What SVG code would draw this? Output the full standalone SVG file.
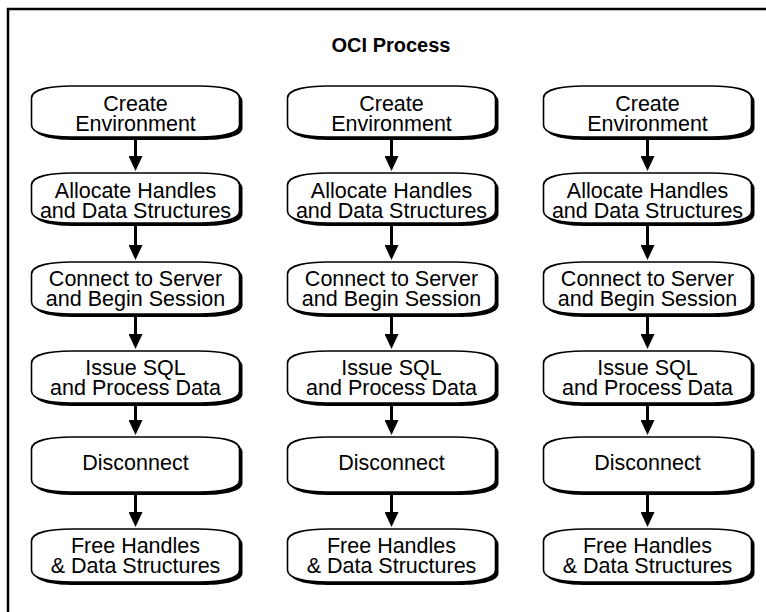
<svg xmlns="http://www.w3.org/2000/svg" xmlns:xlink="http://www.w3.org/1999/xlink" width="766" height="612" viewBox="0 0 766 612">
<style>
  .frame{fill:none;stroke:#000;stroke-width:2.5}
  .shadow{fill:#000}
  .box{fill:#fff;stroke:#000;stroke-width:1.6}
  .lbl{font-family:"Liberation Sans",Arial,sans-serif;font-size:21.5px;fill:#000;text-anchor:middle}
  .title{font-family:"Liberation Sans",Arial,sans-serif;font-size:20px;font-weight:bold;fill:#000;text-anchor:middle}
  .conn{stroke:#000;stroke-width:3;fill:none;marker-end:url(#ah)}
</style>
<defs>
  <marker id="ah" viewBox="0 0 15 14" refX="9" refY="7" markerWidth="15" markerHeight="14" markerUnits="userSpaceOnUse" orient="auto">
    <path d="M0,0 L15,7 L0,14 Z" fill="#000"/>
  </marker>
  <path id="r1" d="M0,98 C0,89 20,86 40,86 L168,86 C188,86 208,89 208,98 L208,125 C208,134 188,137 168,137 L40,137 C20,137 0,134 0,125 Z"/>
  <path id="r2" d="M0,185 C0,176 20,173 40,173 L168,173 C188,173 208,176 208,185 L208,211 C208,220 188,223 168,223 L40,223 C20,223 0,220 0,211 Z"/>
  <path id="r3" d="M0,274 C0,265 20,262 40,262 L168,262 C188,262 208,265 208,274 L208,302 C208,311 188,314 168,314 L40,314 C20,314 0,311 0,302 Z"/>
  <path id="r4" d="M0,363 C0,354 20,351 40,351 L168,351 C188,351 208,354 208,363 L208,391 C208,400 188,403 168,403 L40,403 C20,403 0,400 0,391 Z"/>
  <path id="r5" d="M0,449 C0,440 20,437 40,437 L168,437 C188,437 208,440 208,449 L208,480 C208,489 188,492 168,492 L40,492 C20,492 0,489 0,480 Z"/>
  <path id="r6" d="M0,541 C0,532 20,529 40,529 L168,529 C188,529 208,532 208,541 L208,570 C208,579 188,582 168,582 L40,582 C20,582 0,579 0,570 Z"/>
</defs>

<rect class="frame" x="8" y="9" width="800" height="700"/>
<text class="title" x="391" y="52">OCI Process</text>

<!-- Column 1 -->
<g id="c1-create"><use href="#r1" class="shadow" x="34.5" y="3"/><use href="#r1" class="box" x="31.5"/><text class="lbl" x="135.5" y="111">Create</text><text class="lbl" x="135.5" y="131">Environment</text></g>
<g id="c1-allocate"><use href="#r2" class="shadow" x="34.5" y="3"/><use href="#r2" class="box" x="31.5"/><text class="lbl" x="135.5" y="198">Allocate Handles</text><text class="lbl" x="135.5" y="218">and Data Structures</text></g>
<g id="c1-connect"><use href="#r3" class="shadow" x="34.5" y="3"/><use href="#r3" class="box" x="31.5"/><text class="lbl" x="135.5" y="286">Connect to Server</text><text class="lbl" x="135.5" y="306">and Begin Session</text></g>
<g id="c1-issue"><use href="#r4" class="shadow" x="34.5" y="3"/><use href="#r4" class="box" x="31.5"/><text class="lbl" x="135.5" y="375">Issue SQL</text><text class="lbl" x="135.5" y="395">and Process Data</text></g>
<g id="c1-disconnect"><use href="#r5" class="shadow" x="34.5" y="3"/><use href="#r5" class="box" x="31.5"/><text class="lbl" x="135.5" y="470">Disconnect</text></g>
<g id="c1-free"><use href="#r6" class="shadow" x="34.5" y="3"/><use href="#r6" class="box" x="31.5"/><text class="lbl" x="135.5" y="553">Free Handles</text><text class="lbl" x="135.5" y="573">&amp; Data Structures</text></g>

<!-- Column 2 -->
<g id="c2-create"><use href="#r1" class="shadow" x="290.5" y="3"/><use href="#r1" class="box" x="287.5"/><text class="lbl" x="391.5" y="111">Create</text><text class="lbl" x="391.5" y="131">Environment</text></g>
<g id="c2-allocate"><use href="#r2" class="shadow" x="290.5" y="3"/><use href="#r2" class="box" x="287.5"/><text class="lbl" x="391.5" y="198">Allocate Handles</text><text class="lbl" x="391.5" y="218">and Data Structures</text></g>
<g id="c2-connect"><use href="#r3" class="shadow" x="290.5" y="3"/><use href="#r3" class="box" x="287.5"/><text class="lbl" x="391.5" y="286">Connect to Server</text><text class="lbl" x="391.5" y="306">and Begin Session</text></g>
<g id="c2-issue"><use href="#r4" class="shadow" x="290.5" y="3"/><use href="#r4" class="box" x="287.5"/><text class="lbl" x="391.5" y="375">Issue SQL</text><text class="lbl" x="391.5" y="395">and Process Data</text></g>
<g id="c2-disconnect"><use href="#r5" class="shadow" x="290.5" y="3"/><use href="#r5" class="box" x="287.5"/><text class="lbl" x="391.5" y="470">Disconnect</text></g>
<g id="c2-free"><use href="#r6" class="shadow" x="290.5" y="3"/><use href="#r6" class="box" x="287.5"/><text class="lbl" x="391.5" y="553">Free Handles</text><text class="lbl" x="391.5" y="573">&amp; Data Structures</text></g>

<!-- Column 3 -->
<g id="c3-create"><use href="#r1" class="shadow" x="546.5" y="3"/><use href="#r1" class="box" x="543.5"/><text class="lbl" x="647.5" y="111">Create</text><text class="lbl" x="647.5" y="131">Environment</text></g>
<g id="c3-allocate"><use href="#r2" class="shadow" x="546.5" y="3"/><use href="#r2" class="box" x="543.5"/><text class="lbl" x="647.5" y="198">Allocate Handles</text><text class="lbl" x="647.5" y="218">and Data Structures</text></g>
<g id="c3-connect"><use href="#r3" class="shadow" x="546.5" y="3"/><use href="#r3" class="box" x="543.5"/><text class="lbl" x="647.5" y="286">Connect to Server</text><text class="lbl" x="647.5" y="306">and Begin Session</text></g>
<g id="c3-issue"><use href="#r4" class="shadow" x="546.5" y="3"/><use href="#r4" class="box" x="543.5"/><text class="lbl" x="647.5" y="375">Issue SQL</text><text class="lbl" x="647.5" y="395">and Process Data</text></g>
<g id="c3-disconnect"><use href="#r5" class="shadow" x="546.5" y="3"/><use href="#r5" class="box" x="543.5"/><text class="lbl" x="647.5" y="470">Disconnect</text></g>
<g id="c3-free"><use href="#r6" class="shadow" x="546.5" y="3"/><use href="#r6" class="box" x="543.5"/><text class="lbl" x="647.5" y="553">Free Handles</text><text class="lbl" x="647.5" y="573">&amp; Data Structures</text></g>

<g id="connectors">
  <path class="conn" d="M135.5,140 V165"/>
  <path class="conn" d="M135.5,226 V254"/>
  <path class="conn" d="M135.5,317 V343"/>
  <path class="conn" d="M135.5,406 V429"/>
  <path class="conn" d="M135.5,495 V521"/>
  <path class="conn" d="M391.5,140 V165"/>
  <path class="conn" d="M391.5,226 V254"/>
  <path class="conn" d="M391.5,317 V343"/>
  <path class="conn" d="M391.5,406 V429"/>
  <path class="conn" d="M391.5,495 V521"/>
  <path class="conn" d="M647.5,140 V165"/>
  <path class="conn" d="M647.5,226 V254"/>
  <path class="conn" d="M647.5,317 V343"/>
  <path class="conn" d="M647.5,406 V429"/>
  <path class="conn" d="M647.5,495 V521"/>
</g>
</svg>
